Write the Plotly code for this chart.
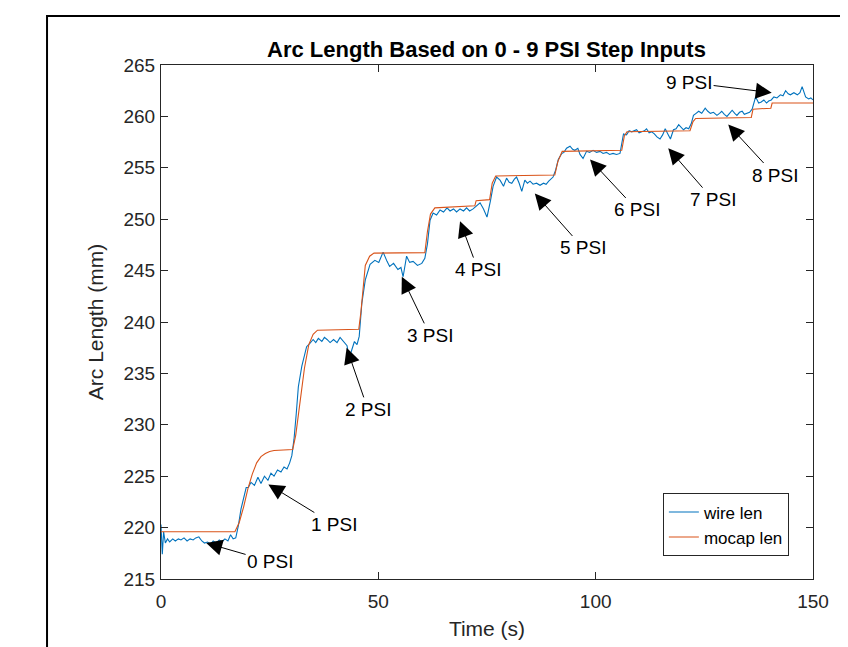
import plotly.graph_objects as go

# ---- data ----
wire_t = [0, 0.3, 0.6, 1.0, 1.5, 2.0, 2.7, 3.3, 4.0, 4.6, 5.3, 6.0, 6.7, 7.4, 8.0, 8.7, 9.4, 10.0,
          10.7, 11.4, 12.0, 12.7, 13.4, 14.0, 14.7, 15.4, 16.0, 16.6, 17.2, 17.8, 18.4, 19.0, 19.6,
          20.1, 20.7, 21.5, 22.3, 23.0, 23.8, 24.6, 25.3, 26.0, 26.8, 27.6, 28.3, 29.0, 29.6, 30.1,
          30.6, 31.1, 31.6, 32.4, 33.0, 33.5, 34.2, 35.0, 35.6, 36.2, 37.0, 37.6, 38.2, 38.9, 39.7,
          40.5, 41.2, 42.0, 42.8, 43.3, 43.9, 44.5, 45.1, 45.6, 46.2, 47.0, 48.1, 49.2, 50.1, 51.1,
          52.0, 52.6, 53.5, 54.5, 55.2, 55.7, 56.5, 57.2, 58.0, 59.0, 60.0, 60.7, 61.3, 61.9, 62.6,
          63.4, 64.2, 65.0, 65.8, 66.5, 67.3, 68.0, 68.8, 69.6, 70.3, 71.0, 71.8, 72.6, 73.4, 74.2,
          75.0, 75.8, 76.4, 77.2, 78.0, 78.8, 79.5, 80.1, 80.7, 81.3, 81.8, 82.4, 83.0, 83.7, 84.3,
          84.9, 85.6, 86.4, 87.2, 88.0, 88.6, 89.2, 90.2, 90.8, 91.4, 92.2, 92.7, 93.3, 94.1, 94.7,
          95.2, 95.9, 96.4, 97.1, 97.9, 98.6, 99.4, 100.2, 101.0, 101.7, 102.5, 103.2, 104.0, 104.8,
          105.6, 106.4, 107.1, 107.7, 108.3, 109.4, 110.0, 110.6, 111.2, 111.7, 112.3, 112.9, 113.5,
          114.1, 114.8, 115.4, 116.0, 116.6, 117.2, 117.9, 118.5, 119.1, 119.7, 120.2, 120.8, 121.4,
          122.0, 122.5, 123.1, 123.7, 124.4, 125.2, 125.8, 126.4, 127.1, 127.9, 128.5, 129.0, 129.6,
          130.2, 130.8, 131.4, 132.0, 132.5, 133.1, 133.7, 134.2, 134.8, 135.4, 136.0, 136.8, 137.5,
          138.1, 138.7, 139.3, 139.8, 140.4, 141.0, 141.7, 142.5, 143.1, 143.7, 144.3, 144.8, 145.6,
          146.4, 147.0, 147.5, 148.3, 149.0, 149.5, 150.0]
wire_len = [220.3, 217.4, 219.6, 218.5, 218.9, 218.6, 218.9, 218.7, 218.9, 218.8, 219.0, 218.7, 218.9,
            218.8, 219.0, 219.1, 218.7, 218.5, 218.6, 218.4, 218.7, 218.5, 218.8, 218.6, 218.9, 218.7,
            219.3, 218.9, 219.0, 220.2, 221.8, 223.0, 223.9, 223.9, 224.4, 224.1, 224.9, 224.3, 225.0,
            224.6, 225.3, 225.0, 225.6, 225.4, 225.9, 225.7, 226.3, 227.0, 228.6, 231.0, 233.7, 235.7,
            236.6, 237.6, 237.9, 238.3, 238.0, 238.4, 238.1, 238.5, 238.3, 238.0, 238.3, 238.0, 238.5,
            238.1, 237.7, 236.5, 237.4, 238.1, 237.8, 238.6, 241.8, 244.1, 245.6, 246.0, 245.8, 246.8,
            245.9, 245.4, 245.7, 245.1, 245.3, 244.4, 246.4, 245.8, 245.9, 245.5, 245.7, 246.2, 247.6,
            249.9, 250.6, 250.4, 250.9, 250.7, 251.1, 250.8, 251.0, 250.7, 251.0, 250.8, 251.1, 250.8,
            251.0, 251.3, 251.6, 251.0, 250.2, 251.8, 253.2, 254.1, 253.8, 253.2, 254.0, 253.6, 253.5,
            253.9, 254.1, 253.5, 252.7, 253.8, 253.5, 253.7, 253.4, 253.5, 253.3, 253.5, 253.4, 253.7,
            254.1, 254.8, 255.8, 256.4, 256.5, 256.9, 257.1, 256.8, 256.7, 256.9, 256.3, 255.9, 256.6,
            256.5, 256.7, 256.5, 256.6, 256.4, 256.5, 256.3, 256.4, 256.3, 256.4, 258.3, 258.2, 258.6,
            258.5, 258.7, 258.4, 258.5, 258.6, 258.8, 258.4, 258.5, 258.3, 258.0, 257.8, 258.2, 258.8,
            258.3, 257.8, 258.7, 258.8, 259.2, 258.9, 258.7, 258.9, 258.8, 259.3, 260.1, 260.3, 260.5,
            260.3, 260.8, 260.5, 260.3, 260.4, 260.1, 260.3, 260.5, 260.2, 260.0, 260.3, 260.6, 260.3,
            260.1, 260.4, 260.5, 260.2, 260.3, 260.4, 260.7, 261.9, 261.3, 261.4, 261.6, 261.3, 261.5,
            261.6, 261.9, 261.8, 262.1, 262.0, 262.5, 262.2, 262.1, 262.3, 262.1, 262.3, 262.9, 261.9,
            261.7, 261.8, 261.6]

mocap_t = [0, 17.0, 18.0, 19.0, 20.0, 21.0, 22.0, 23.0, 24.0, 25.0, 26.0, 30.3, 31.0, 32.0, 33.0,
           34.0, 35.0, 36.0, 45.5, 46.0, 46.5, 47.0, 48.0, 49.0, 60.7, 61.3, 62.0, 63.0, 72.2, 72.5,
           75.6, 76.2, 77.0, 90.6, 91.3, 92.3, 106.0, 106.6, 107.2, 121.7, 122.4, 123.0, 135.8,
           136.2, 140.3, 140.6, 150.0]
mocap_len = [219.6, 219.6, 220.5, 222.0, 223.8, 225.2, 226.3, 226.9, 227.2, 227.4, 227.5, 227.6,
             229.0, 232.5, 235.5, 237.8, 238.8, 239.2, 239.3, 241.0, 243.5, 245.5, 246.4, 246.7,
             246.75, 248.8, 250.5, 251.1, 251.3, 251.8, 251.9, 253.5, 254.2, 254.3, 255.6, 256.6,
             256.7, 258.1, 258.5, 258.6, 259.5, 259.8, 259.9, 260.7, 260.8, 261.3, 261.3]

# annotation labels: text, arrow head (t, len), text position (t, len)
psi_labels = ["0 PSI", "1 PSI", "2 PSI", "3 PSI", "4 PSI", "5 PSI", "6 PSI", "7 PSI", "8 PSI", "9 PSI"]
head_t = [10.4, 24.7, 42.7, 55.4, 68.8, 86.0, 98.7, 116.7, 130.5, 140.5]
head_v = [218.5, 224.2, 237.5, 244.4, 249.8, 252.5, 255.8, 256.9, 259.2, 262.3]
text_t = [25.1, 39.8, 47.6, 61.9, 72.9, 97.1, 109.5, 127.0, 141.2, 121.5]
text_v = [216.7, 220.3, 231.5, 238.7, 245.1, 247.2, 250.9, 251.9, 254.3, 263.3]

x_ticks = [0, 50, 100, 150]
y_ticks = [215, 220, 225, 230, 235, 240, 245, 250, 255, 260, 265]

FONT = "Liberation Sans, Arial, Helvetica, sans-serif"
AX = "#262626"

fig = go.Figure()
fig.add_trace(go.Scatter(x=wire_t, y=wire_len, mode="lines", name="wire len",
                         line=dict(color="#0072BD", width=1.1)))
fig.add_trace(go.Scatter(x=mocap_t, y=mocap_len, mode="lines", name="mocap len",
                         line=dict(color="#D95319", width=1.1)))

for lab, hx, hy, tx, ty in zip(psi_labels, head_t, head_v, text_t, text_v):
    fig.add_annotation(x=hx, y=hy, ax=tx, ay=ty, xref="x", yref="y", axref="x", ayref="y",
                       text=lab, showarrow=True, arrowhead=2, arrowsize=3.2, arrowwidth=1,
                       arrowcolor="black", font=dict(family=FONT, size=19, color="black"),
                       standoff=0, startstandoff=0)

# outer figure frame
fig.add_shape(type="rect", xref="paper", yref="paper", x0=-0.1748, x1=1.2, y0=-0.3, y1=1.0953,
              line=dict(color="black", width=2), fillcolor="rgba(0,0,0,0)", layer="above")

axis_common = dict(showline=True, linecolor=AX, linewidth=1, mirror="ticks", ticks="inside",
                   ticklen=7, tickcolor=AX, showgrid=False, zeroline=False,
                   tickfont=dict(family=FONT, size=19, color=AX))

fig.update_layout(
    width=840, height=639,
    margin=dict(l=153, r=35, t=57, b=68),
    paper_bgcolor="white", plot_bgcolor="white",
    title=dict(text="<b>Arc Length Based on 0 - 9 PSI Step Inputs</b>", x=0.5696, xanchor="center",
               y=1 - 41 / 639, yanchor="middle", yref="container",
               font=dict(family=FONT, size=22, color="black")),
    xaxis=dict(range=[0, 150], tickvals=x_ticks, ticklabelstandoff=5,
               title=dict(text="Time (s)", standoff=10,
                          font=dict(family=FONT, size=21, color=AX)), **axis_common),
    yaxis=dict(range=[215, 265], tickvals=y_ticks, ticklabelstandoff=1,
               title=dict(text="Arc Length (mm)", standoff=14,
                          font=dict(family=FONT, size=21, color=AX)), **axis_common),
    legend=dict(x=0.963, y=0.044, xanchor="right", yanchor="bottom", bgcolor="white",
                bordercolor=AX, borderwidth=1, font=dict(family=FONT, size=17, color="black"),
                tracegroupgap=0),
    showlegend=True,
)

fig.write_html("out.html")
